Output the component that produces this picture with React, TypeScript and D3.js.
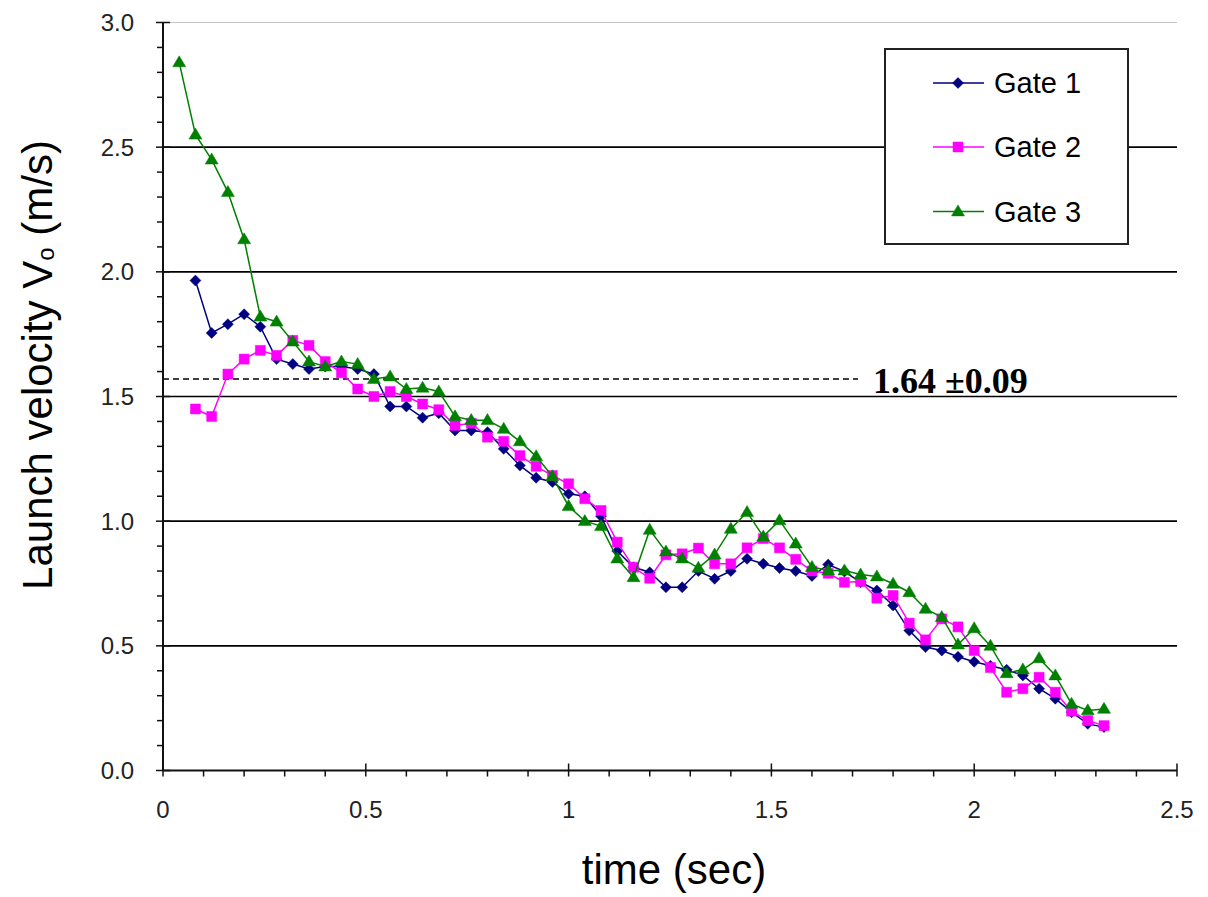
import React from "react";
import * as d3 from "d3";

const times: number[] = [0.04,0.08,0.12,0.16,0.20,0.24,0.28,0.32,0.36,0.40,0.44,0.48,0.52,0.56,0.60,0.64,0.68,0.72,0.76,0.80,0.84,0.88,0.92,0.96,1.00,1.04,1.08,1.12,1.16,1.20,1.24,1.28,1.32,1.36,1.40,1.44,1.48,1.52,1.56,1.60,1.64,1.68,1.72,1.76,1.80,1.84,1.88,1.92,1.96,2.00,2.04,2.08,2.12,2.16,2.20,2.24,2.28,2.32];

const gate1: number[] = [1.965,1.755,1.79,1.83,1.78,1.65,1.63,1.61,1.62,1.62,
  1.61,1.59,1.46,1.46,1.415,1.433,1.364,1.364,1.357,1.29,
  1.223,1.174,1.157,1.11,1.10,1.02,0.88,0.815,0.795,0.735,
  0.735,0.80,0.769,0.80,0.849,0.829,0.812,0.80,0.78,0.826,
  0.798,0.755,0.722,0.662,0.561,0.495,0.481,0.456,0.436,0.42,
  0.404,0.381,0.328,0.288,0.234,0.187,0.174];

const gate2: number[] = [1.45,1.42,1.59,1.65,1.685,1.665,1.725,1.705,1.64,1.595,
  1.53,1.50,1.52,1.50,1.47,1.447,1.384,1.393,1.337,1.32,
  1.263,1.22,1.183,1.15,1.09,1.043,0.916,0.815,0.771,0.865,
  0.869,0.892,0.829,0.829,0.893,0.93,0.893,0.847,0.80,0.791,
  0.755,0.758,0.691,0.702,0.591,0.524,0.608,0.576,0.481,0.413,
  0.314,0.328,0.374,0.314,0.238,0.20,0.18];

const gate3: number[] = [2.84,2.55,2.45,2.32,2.13,1.82,1.80,1.72,1.64,1.62,
  1.64,1.63,1.57,1.58,1.53,1.535,1.52,1.42,1.405,1.405,
  1.37,1.32,1.26,1.18,1.06,1.00,0.98,0.85,0.775,0.965,
  0.878,0.85,0.813,0.866,0.969,1.036,0.938,1.003,0.91,0.816,
  0.802,0.802,0.786,0.778,0.749,0.715,0.648,0.615,0.505,0.57,
  0.50,0.39,0.405,0.45,0.381,0.267,0.241,0.247];

const seriesNames = ["Gate 1", "Gate 2", "Gate 3"];
const seriesColors = ["#000080", "#FF00FF", "#008000"];
const yTicks = [0, 0.5, 1.0, 1.5, 2.0, 2.5, 3.0];
const xTicks = [0, 0.5, 1, 1.5, 2, 2.5];
const meanValue = 1.57;
const meanLabel = "1.64 \u00B10.09";

type Shape = "diamond" | "square" | "triangle";
const shapes: Shape[] = ["diamond", "square", "triangle"];

function markerPath(shape: Shape, cx: number, cy: number): string {
  if (shape === "diamond") {
    const r = 5.5;
    return `M${cx},${cy - r}L${cx + r},${cy}L${cx},${cy + r}L${cx - r},${cy}Z`;
  }
  if (shape === "square") {
    const r = 5;
    return `M${cx - r},${cy - r}H${cx + r}V${cy + r}H${cx - r}Z`;
  }
  const w = 6.5, h = 11;
  return `M${cx},${cy - h * 0.6}L${cx + w},${cy + h * 0.4}L${cx - w},${cy + h * 0.4}Z`;
}

export default function App() {
  const W = 1208, H = 897;
  const x = d3.scaleLinear().domain([0, 2.5]).range([163, 1177]);
  const y = d3.scaleLinear().domain([0, 3]).range([770.5, 22.5]);

  const data = [
    { name: seriesNames[0], color: seriesColors[0], shape: shapes[0], t: times.slice(1), v: gate1 },
    { name: seriesNames[1], color: seriesColors[1], shape: shapes[1], t: times.slice(1), v: gate2 },
    { name: seriesNames[2], color: seriesColors[2], shape: shapes[2], t: times, v: gate3 },
  ];

  const line = d3.line<[number, number]>().x(d => x(d[0])).y(d => y(d[1]));

  const yMinor = d3.range(0, 3.0001, 0.1);
  const xMinor = d3.range(0, 2.5001, 0.1);

  const font = "Arial, 'Liberation Sans', Helvetica, sans-serif";
  const [x0, x1] = x.range();
  const [yb, yt] = y.range();

  return (
    <svg width={W} height={H} style={{ position: "absolute", left: 0, top: 0, background: "#fff" }}>
      <rect x={0} y={0} width={W} height={H} fill="#fff" />
      {/* plot top border (light) */}
      <line x1={x0} x2={x1} y1={yt} y2={yt} stroke="#c4c4c4" strokeWidth={1} />
      {/* gridlines */}
      {yTicks.filter(v => v > 0 && v < 3).map(v => (
        <line key={"g" + v} x1={x0} x2={x1} y1={y(v)} y2={y(v)} stroke="#000" strokeWidth={1.6} />
      ))}
      {/* mean dashed line */}
      <line x1={x0} x2={858} y1={y(meanValue)} y2={y(meanValue)} stroke="#000" strokeWidth={1.4} strokeDasharray="6,4" />
      <text x={873} y={393} fontFamily="'Times New Roman', 'Liberation Serif', serif" fontWeight="bold" fontSize={36} fill="#000">{meanLabel}</text>

      {/* axes */}
      <line x1={x0} x2={x0} y1={yt} y2={yb} stroke="#111" strokeWidth={2} />
      <line x1={x0} x2={x1} y1={yb} y2={yb} stroke="#111" strokeWidth={2} />
      {yMinor.map((v, i) => (
        <line key={"ym" + i} x1={i % 5 === 0 ? x0 - 7 : x0 - 6} x2={i % 5 === 0 ? x0 + 7 : x0} y1={y(v)} y2={y(v)} stroke="#111" strokeWidth={1.5} />
      ))}
      {xMinor.map((v, i) => (
        <line key={"xm" + i} x1={x(v)} x2={x(v)} y1={i % 5 === 0 ? yb - 7 : yb} y2={yb + 6} stroke="#111" strokeWidth={1.5} />
      ))}
      {yTicks.map(v => (
        <text key={"yl" + v} x={134} y={y(v)} dy="0.36em" textAnchor="end" fontFamily={font} fontSize={24} fill="#222">{v.toFixed(1)}</text>
      ))}
      {xTicks.map(v => (
        <text key={"xl" + v} x={x(v)} y={809} dy="0.36em" textAnchor="middle" fontFamily={font} fontSize={24} fill="#222">{String(v)}</text>
      ))}

      {/* axis titles */}
      <text x={674} y={884} textAnchor="middle" fontFamily={font} fontSize={42} fill="#000">time (sec)</text>
      <text transform="translate(52,365) rotate(-90)" textAnchor="middle" fontFamily={font} fontSize={42} fill="#000">
        Launch velocity V<tspan fontSize={24} dy={2}>o</tspan><tspan dy={-2}> (m/s)</tspan>
      </text>

      {/* series */}
      {data.map(s => {
        const pts: [number, number][] = s.t.map((t, i) => [t, s.v[i]]);
        return (
          <g key={s.name}>
            <path d={line(pts) || ""} fill="none" stroke={s.color} strokeWidth={1.5} />
            {pts.map((p, i) => (
              <path key={i} d={markerPath(s.shape, x(p[0]), y(p[1]))} fill={s.color} stroke={s.color} strokeWidth={0.5} />
            ))}
          </g>
        );
      })}

      {/* legend */}
      <rect x={885} y={49} width={243} height={195} fill="#fff" stroke="#222" strokeWidth={2} />
      {data.map((s, i) => {
        const ly = [83, 147, 211.5][i];
        return (
          <g key={"lg" + i}>
            <line x1={933} x2={984} y1={ly} y2={ly} stroke={s.color} strokeWidth={1.5} />
            <path d={markerPath(s.shape, 958, ly)} fill={s.color} stroke={s.color} strokeWidth={0.5} />
            <text x={994} y={ly} dy="0.36em" fontFamily={font} fontSize={29} fill="#000">{s.name}</text>
          </g>
        );
      })}
    </svg>
  );
}
